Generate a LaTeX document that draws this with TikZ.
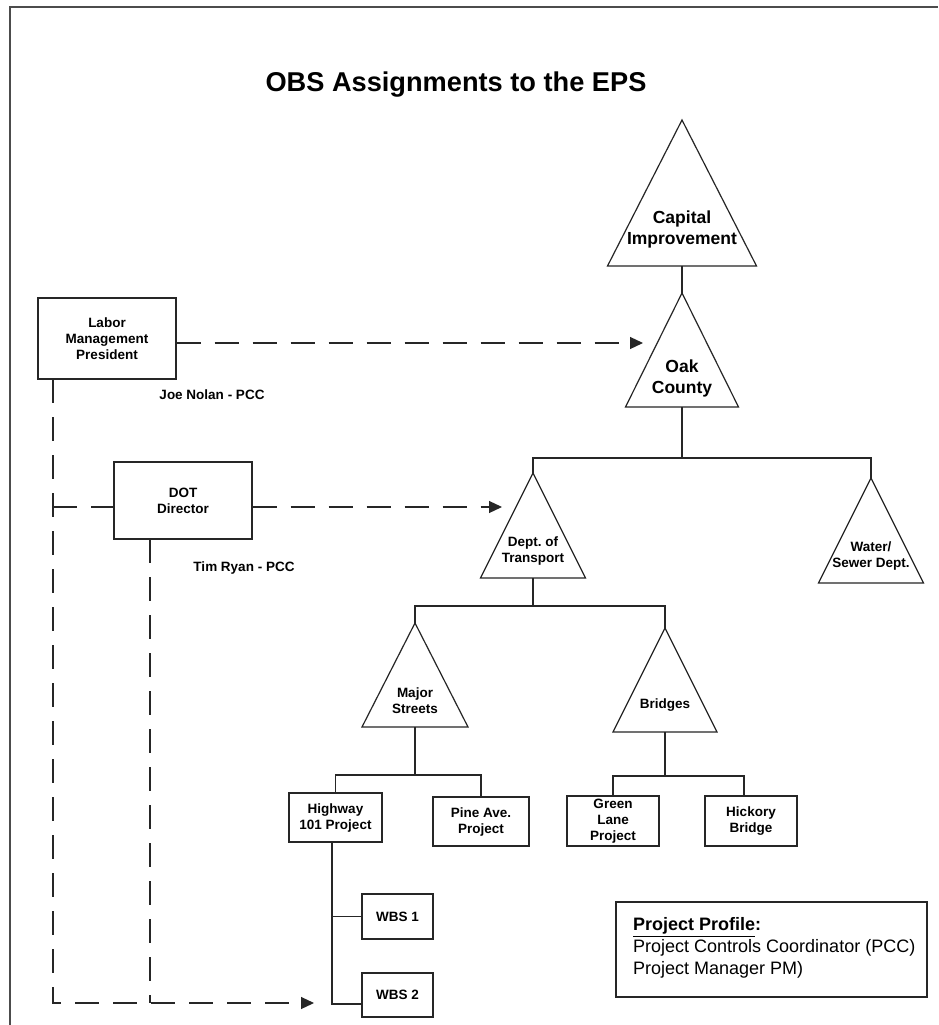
\documentclass[tikz,border=0pt]{standalone}
\usepackage{fontspec}
\setmainfont{Liberation Sans}
\usetikzlibrary{arrows.meta}
\frenchspacing
\newcommand\mytri[5]{%
  \coordinate (#1-t) at (#2,#3);
  \coordinate (#1-b) at (#2,#3+#5);
  \draw[ln, line join=miter] (#2,#3) -- (#2+#4,#3+#5) -- (#2-#4,#3+#5) -- cycle;
}
\begin{document}
\begin{tikzpicture}[x=1pt,y=-1pt,
  ln/.style={line width=1.2pt, draw=black!85},
  dsh/.style={line width=1.2pt, draw=black!85, dash pattern=on 24pt off 14pt},
  arr/.style={-{Triangle[length=13pt,width=12pt]}},
  box/.style={draw=black!85, line width=1.2pt, inner sep=0pt, align=center,
    font=\fontsize{13.5}{16}\selectfont\bfseries},
  small/.style={inner sep=0pt, align=center, font=\fontsize{13.5}{16}\selectfont\bfseries},
  big/.style={inner sep=0pt, align=center, font=\fontsize{17.5}{21}\selectfont\bfseries},
]
\useasboundingbox (0,0) rectangle (938,1025);
\fill[white] (0,0) rectangle (938,1025);
\draw[line width=1.5pt, draw=black!70] (10,1025) -- (10,7) -- (938,7);

\node[inner sep=0pt, font=\fontsize{27.2}{31}\selectfont\bfseries] (title) at (456,85) {OBS Assignments to the EPS};

% triangles
\mytri{cap}{682}{120}{74.5}{146}
\mytri{oak}{682}{293}{56.5}{114}
\mytri{dept}{533}{473}{52.5}{105}
\mytri{wat}{871}{478}{52.5}{105}
\mytri{maj}{415}{623}{53}{104}
\mytri{bri}{665}{628}{52}{104}

\node[big] (capl) at (682,229) {Capital\\Improvement};
\node[big] (oakl) at (682,378) {Oak\\County};
\node[small] (deptl) at (533,551) {Dept. of\\Transport};
\node[small] (watl) at (871,556) {Water/\\Sewer Dept.};
\node[small] (majl) at (415,701) {Major\\Streets};
\node[small] (bril) at (665,705) {Bridges};

% boxes
\node[box, minimum width=138pt, minimum height=81pt] (labor) at (107,338.5) {Labor\\Management\\President};
\node[box, minimum width=138pt, minimum height=77pt] (dot) at (183,500.5) {DOT\\Director};
\node[box, minimum width=93pt, minimum height=49pt] (hwy) at (335.5,817.5) {Highway\\101 Project};
\node[box, minimum width=96pt, minimum height=49pt] (pine) at (481,821.5) {Pine Ave.\\Project};
\node[box, minimum width=92pt, minimum height=50pt] (green) at (613,821) {Green\\Lane\\Project};
\node[box, minimum width=92pt, minimum height=50pt] (hick) at (751,821) {Hickory\\Bridge};
\node[box, minimum width=71pt, minimum height=45pt] (wbs1) at (397.5,916.5) {WBS 1};
\node[box, minimum width=71pt, minimum height=44pt] (wbs2) at (397.5,995) {WBS 2};

\node[small] (joe) at (212,395) {Joe Nolan - PCC};
\node[small] (tim) at (244,568) {Tim Ryan - PCC};

% tree connectors
\coordinate (bar1) at (682,458);
\coordinate (bar2) at (533,606);
\coordinate (bar3) at (415,775);
\coordinate (bar4) at (665,776);
\coordinate (hk) at (744,796);
\draw[ln] (cap-b) -- (oak-t);
\draw[ln] (oak-b) -- (bar1);
\draw[ln] (dept-t) |- (bar1) -| (wat-t);
\draw[ln] (dept-b) -- (bar2);
\draw[ln] (maj-t) |- (bar2) -| (bri-t);
\draw[ln] (maj-b) -- (bar3);
\draw[ln] (hwy.north) |- (bar3) -| (pine.north);
\draw[ln] (bri-b) -- (bar4);
\draw[ln] (green.north) |- (bar4) -| (hk);

\coordinate (hv0) at (332,842);
\coordinate (hv1) at (332,1004);
\draw[ln] (hv0) -- (hv1) -- (wbs2.west |- hv1);
\draw[ln] (hv0 |- wbs1.west) -- (wbs1.west);

% dashed assignments
\coordinate (oakin) at (643,343);
\coordinate (deptin) at (502,507);
\coordinate (wbsin) at (314,1003);
\coordinate (lv) at (53,379);
\coordinate (lcorner) at (53,1003);
\coordinate (dl) at (53,507);
\coordinate (dv) at (150,539);
\coordinate (dcorner) at (150,1003);
\draw[dsh, arr] (labor.east |- oakin) -- (oakin);
\draw[dsh, arr] (lv) -- (lcorner) -- (wbsin);
\draw[dsh] (dl) -- (dot.west |- dl);
\draw[dsh, arr] (dot.east |- deptin) -- (deptin);
\draw[dsh] (dv) -- (dcorner);

% legend
\node[draw=black!85, line width=1.2pt, minimum width=311pt, minimum height=95pt, inner sep=0pt] (legend) at (771.5,949.5) {};
\node[anchor=west, inner sep=0pt, align=left, font=\fontsize{18}{22}\selectfont] (legtext) at (633,948)
  {\textbf{\underline{Project Profile}:}\\Project Controls Coordinator (PCC)\\Project Manager PM)};
\end{tikzpicture}
\end{document}
